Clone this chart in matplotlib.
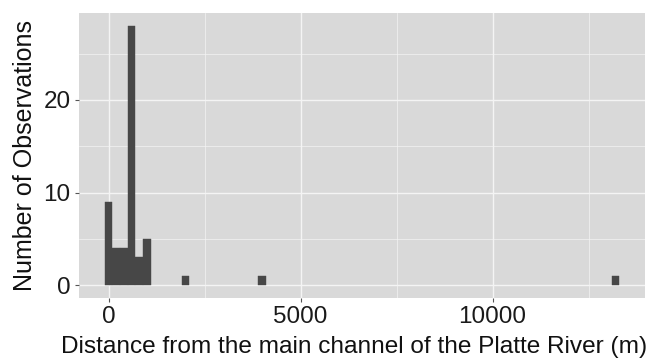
import numpy as np
from matplotlib import pyplot as plt

# histogram (binwidth 200)
bin_centers = [0, 200, 400, 600, 800, 1000, 2000, 4000, 13200]
counts = [9, 4, 4, 28, 3, 5, 1, 1, 1]
binwidth = 200

x_ticks = [0, 5000, 10000]
y_ticks = [0, 10, 20]

plt.rcParams['font.family'] = ['Liberation Sans', 'DejaVu Sans']

fig = plt.figure(figsize=(6.57, 3.6), dpi=100)
ax_left, ax_right = 79, 645
ax = fig.add_axes([ax_left/657, 1 - 298/360, (ax_right - ax_left)/657, (298 - 13)/360])

ax.set_facecolor('#d9d9d9')
for s in ax.spines.values():
    s.set_visible(False)

ax.bar(bin_centers, counts, width=binwidth, color='#474747',
       edgecolor='#474747', linewidth=0.3, zorder=3)

xmin = min(bin_centers) - binwidth / 2
xmax = max(bin_centers) + binwidth / 2
pad = (xmax - xmin) * 0.05
ax.set_xlim(xmin - pad, xmax + pad)
ymax = max(counts)
ax.set_ylim(-ymax * 0.05, ymax * 1.05)

ax.set_xticks(x_ticks)
ax.set_yticks(y_ticks)
ax.set_xticks([2500, 7500, 12500], minor=True)
ax.set_yticks([5, 15, 25], minor=True)
ax.grid(True, which='major', color='#f4f4f4', linewidth=1.0, zorder=0)
ax.grid(True, which='minor', color='#f4f4f4', linewidth=0.5, zorder=0)
ax.set_axisbelow(True)

ax.tick_params(which='major', length=3, color='#555555', labelsize=17.5,
               labelcolor='#1a1a1a', pad=3)
ax.tick_params(which='minor', length=0)

ax.set_xlabel('Distance from the main channel of the Platte River (m)',
              fontsize=17.6, color='#111111')
# centre the title a little left of the panel centre, as in the source
ax.xaxis.set_label_coords((354 - ax_left) / (ax_right - ax_left), -0.135)
ax.set_ylabel('Number of Observations', fontsize=18, color='#111111',
              labelpad=5)

fig.savefig('out.png', dpi=100)
